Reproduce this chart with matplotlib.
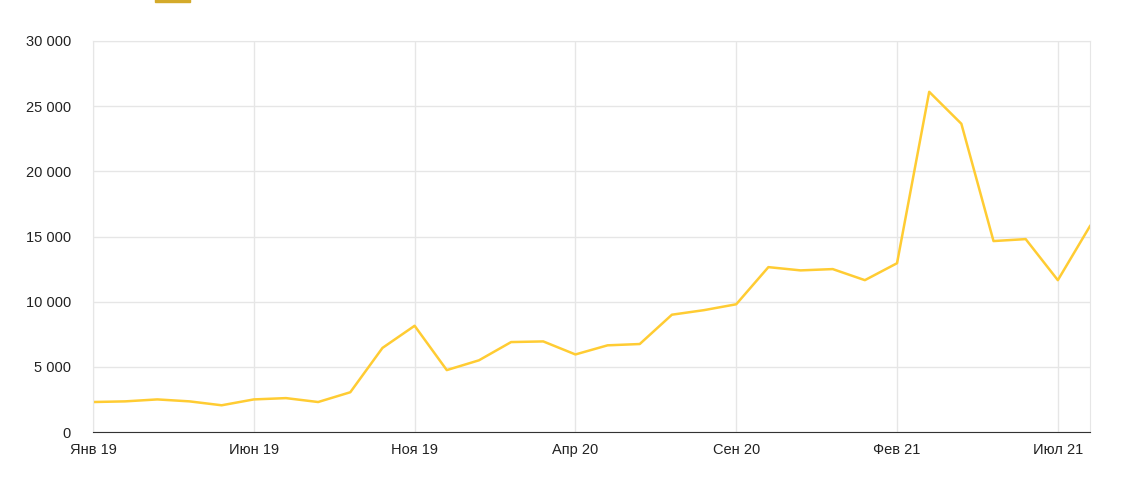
import matplotlib
matplotlib.use("Agg")
import matplotlib.pyplot as plt
from matplotlib.ticker import FuncFormatter, MultipleLocator

plt.rcParams['font.family'] = ['Liberation Sans', 'DejaVu Sans']

values = [2300, 2350, 2500, 2350, 2050, 2500, 2600, 2300, 3050, 6450, 8150, 4750,
          5500, 6900, 6950, 5950, 6650, 6750, 9000, 9350, 9800, 12650, 12400, 12500,
          11650, 12950, 26100, 23650, 14650, 14800, 11650, 15800]
tick_pos = [0, 5, 10, 15, 20, 25, 30]
tick_labels = ["Янв 19", "Июн 19", "Ноя 19", "Апр 20", "Сен 20", "Фев 21", "Июл 21"]

fig = plt.figure(figsize=(11.41, 4.93), dpi=100)
ax = fig.add_axes([93/1141, 1-432/493, (1090-93)/1141, (432-41)/493])
x = list(range(len(values)))
ax.plot(x, values, color="#FFCC33", lw=1.8)
ax.set_xlim(0, len(values) - 1)
ax.set_ylim(0, 30000)
ax.yaxis.set_major_locator(MultipleLocator(5000))
ax.yaxis.set_major_formatter(FuncFormatter(lambda v, p: f"{int(v):,}".replace(",", " ")))
ax.set_xticks(tick_pos)
ax.set_xticklabels(tick_labels)
ax.grid(True, color="#e6e6e6", lw=1)
ax.set_axisbelow(True)
for s in ["top", "left", "right"]:
    ax.spines[s].set_color("#e6e6e6")
ax.spines["bottom"].set_color("#333333")
ax.tick_params(length=0, labelsize=10.5, colors="#222222", pad=8)
ax.tick_params(axis="y", pad=16)
fig.patches.append(plt.Rectangle((155/1141, 1-2/493), 35/1141, 4/493,
                                 transform=fig.transFigure, color="#D4AA2A"))
fig.savefig("out.png")
